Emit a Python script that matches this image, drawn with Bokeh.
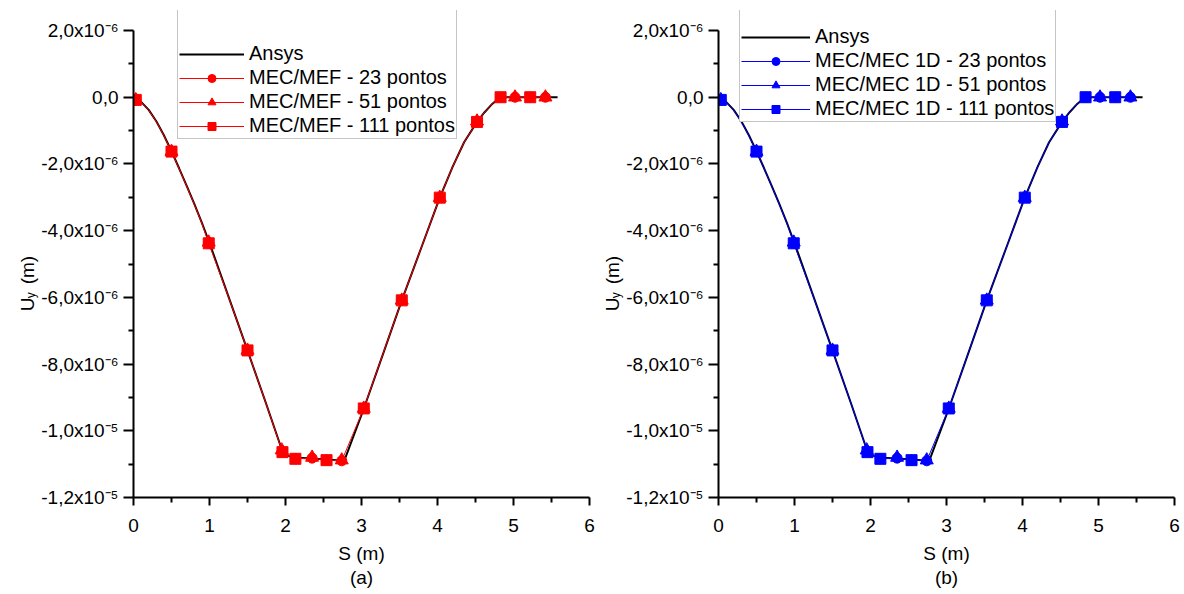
import math
from bokeh.plotting import figure
from bokeh.models import FixedTicker, Legend, LegendItem, LinearAxis
from bokeh.core.properties import value
from bokeh.layouts import row
from bokeh.embed import file_html
from bokeh.resources import INLINE

# ---------------- data ----------------
s_ansys = [0.00, 0.10, 0.20, 0.30, 0.40, 0.50, 0.60, 0.70, 0.80, 0.90, 1.00, 1.25, 1.50, 1.75,
           1.96, 2.05, 2.15, 2.35, 2.55, 2.75, 2.78, 3.03, 3.30, 3.53, 3.80, 4.03, 4.20, 4.35,
           4.52, 4.62, 4.72, 4.80, 4.85, 5.10, 5.40, 5.58]
uy_ansys = [0.0, -0.14e-6, -0.38e-6, -0.72e-6, -1.14e-6, -1.62e-6, -2.13e-6, -2.66e-6, -3.20e-6,
            -3.77e-6, -4.37e-6, -5.98e-6, -7.59e-6, -9.22e-6, -10.62e-6, -10.76e-6, -10.81e-6,
            -10.83e-6, -10.86e-6, -10.90e-6, -10.86e-6, -9.34e-6, -7.59e-6, -6.09e-6, -4.43e-6,
            -3.01e-6, -2.08e-6, -1.35e-6, -0.74e-6, -0.45e-6, -0.20e-6, -0.05e-6, 0.0, 0.0, 0.0, 0.0]

# line through the coupled-method results (drawn on top of the Ansys curve)
s_coupled_line = [0.03, 0.10, 0.20, 0.30, 0.40, 0.50, 0.60, 0.70, 0.80, 0.90, 0.99, 1.25, 1.50,
                  1.75, 1.96, 2.13, 2.35, 2.54, 2.74, 3.03, 3.30, 3.53, 3.80, 4.03, 4.20, 4.35,
                  4.52, 4.62, 4.72, 4.83, 5.02, 5.22, 5.42]
uy_coupled_line = [-0.08e-6, -0.15e-6, -0.39e-6, -0.73e-6, -1.15e-6, -1.63e-6, -2.14e-6, -2.67e-6,
                   -3.21e-6, -3.78e-6, -4.38e-6, -5.99e-6, -7.59e-6, -9.22e-6, -10.64e-6,
                   -10.84e-6, -10.82e-6, -10.88e-6, -10.90e-6, -9.33e-6, -7.58e-6, -6.09e-6,
                   -4.43e-6, -3.01e-6, -2.08e-6, -1.35e-6, -0.74e-6, -0.45e-6, -0.20e-6, 0.0,
                   0.0, 0.0, 0.0]

s_23 = [0.03, 0.50, 0.99, 1.50, 1.96, 2.13, 2.35, 2.54, 2.74, 3.03, 3.53, 4.03, 4.52, 4.83, 5.02, 5.22, 5.42]
uy_23 = [-0.08e-6, -1.63e-6, -4.38e-6, -7.59e-6, -10.62e-6, -10.84e-6, -10.82e-6, -10.88e-6,
         -10.90e-6, -9.33e-6, -6.09e-6, -3.01e-6, -0.74e-6, 0.0, 0.0, 0.0, 0.0]

s_51 = [0.03, 0.50, 0.99, 1.50, 1.95, 2.35, 2.74, 3.03, 3.53, 4.03, 4.52, 5.02, 5.42]
uy_51 = [-0.08e-6, -1.63e-6, -4.35e-6, -7.59e-6, -10.58e-6, -10.80e-6, -10.88e-6, -9.33e-6,
         -6.09e-6, -3.01e-6, -0.72e-6, 0.0, 0.0]

s_111 = [0.03, 0.50, 0.99, 1.50, 1.96, 2.13, 2.54, 3.03, 3.53, 4.03, 4.52, 4.83, 5.22]
uy_111 = [-0.08e-6, -1.63e-6, -4.38e-6, -7.59e-6, -10.64e-6, -10.84e-6, -10.88e-6, -9.33e-6,
          -6.09e-6, -3.01e-6, -0.74e-6, 0.0, 0.0]

names_a = ["MEC/MEF - 23 pontos", "MEC/MEF - 51 pontos", "MEC/MEF - 111 pontos"]
names_b = ["MEC/MEC 1D - 23 pontos", "MEC/MEC 1D - 51 pontos", "MEC/MEC 1D - 111 pontos"]

x_ticks = [0, 1, 2, 3, 4, 5, 6]
x_tick_labels = ["0", "1", "2", "3", "4", "5", "6"]
y_ticks = [2e-6, 0.0, -2e-6, -4e-6, -6e-6, -8e-6, -1.0e-5, -1.2e-5]
y_tick_labels = ["2,0x10\u207b\u2076", "0,0", "-2,0x10\u207b\u2076", "-4,0x10\u207b\u2076",
                 "-6,0x10\u207b\u2076", "-8,0x10\u207b\u2076", "-1,0x10\u207b\u2075",
                 "-1,2x10\u207b\u2075"]

FONT = "Liberation Sans"


def make_panel(color, names, tag, leg_x, leg_y, border_left, glyph_w):
    # frame reaches a little above the top tick so the legend (clipped at the frame top) looks cut
    p = figure(frame_width=456, frame_height=487, x_range=(0, 6), y_range=(-1.2e-5, 2.6e-6),
               min_border_left=border_left, min_border_right=8, min_border_top=10,
               min_border_bottom=84, output_backend="svg", toolbar_location=None, tools="")
    p.outline_line_color = None
    p.grid.visible = False
    p.background_fill_color = "white"
    p.border_fill_color = "white"

    x_minor = [(a + b) / 2 for a, b in zip(x_ticks[:-1], x_ticks[1:])]
    y_minor = [(a + b) / 2 for a, b in zip(y_ticks[:-1], y_ticks[1:])]
    p.xaxis.ticker = FixedTicker(ticks=x_ticks, minor_ticks=x_minor)
    p.yaxis.ticker = FixedTicker(ticks=y_ticks, minor_ticks=y_minor)
    p.yaxis.bounds = (min(y_ticks), max(y_ticks))
    p.xaxis.major_label_overrides = dict(zip(x_ticks, x_tick_labels))
    p.yaxis.major_label_overrides = dict(zip(y_ticks, y_tick_labels))
    for ax in (p.xaxis[0], p.yaxis[0]):
        ax.axis_line_width = 2
        ax.axis_line_color = "black"
        ax.major_tick_line_width = 2
        ax.minor_tick_line_width = 2
        ax.major_tick_line_color = "black"
        ax.minor_tick_line_color = "black"
        ax.major_tick_in = 0
        ax.minor_tick_in = 0
        ax.minor_tick_out = 5
        ax.major_label_text_font = FONT
        ax.major_label_text_font_size = "19px"
        ax.major_label_text_color = "black"
    p.xaxis.major_tick_out = 8
    p.xaxis.major_label_standoff = 13
    p.yaxis.major_tick_out = 10
    p.yaxis.major_label_standoff = 5

    xa = p.xaxis[0]
    xa.axis_label = "S (m)"
    xa.axis_label_text_font = FONT
    xa.axis_label_text_font_size = "19px"
    xa.axis_label_text_font_style = "normal"
    xa.axis_label_text_color = "black"
    xa.axis_label_standoff = 8

    tag_axis = LinearAxis(ticker=FixedTicker(ticks=[]), axis_label=tag,
                          axis_line_color=None, major_tick_line_color=None,
                          minor_tick_line_color=None, major_label_standoff=0,
                          major_tick_out=0, minor_tick_out=0,
                          axis_label_standoff=0, axis_label_text_font=FONT,
                          axis_label_text_font_size="19px",
                          axis_label_text_font_style="normal",
                          axis_label_text_color="black")
    p.add_layout(tag_axis, "below")

    r_ansys = p.line(s_ansys, uy_ansys, line_color="black", line_width=2)
    r_line = p.line(s_coupled_line, uy_coupled_line, line_color=color, line_width=1)
    r_c = p.scatter(s_23, uy_23, marker="circle", size=10, fill_color=color, line_color=color)
    r_t = p.scatter(s_51, uy_51, marker="triangle", size=13, fill_color=color, line_color=color)
    r_s = p.scatter(s_111, uy_111, marker="square", size=11, fill_color=color, line_color=color)

    legend = Legend(items=[LegendItem(label="Ansys", renderers=[r_ansys]),
                           LegendItem(label=names[0], renderers=[r_line, r_c]),
                           LegendItem(label=names[1], renderers=[r_line, r_t]),
                           LegendItem(label=names[2], renderers=[r_line, r_s])],
                    location=(leg_x, leg_y))
    legend.title = " "
    legend.title_text_font_size = "19px"
    legend.title_standoff = 12
    legend.label_text_font = FONT
    legend.label_text_font_size = "20px"
    legend.label_text_color = "black"
    legend.glyph_width = glyph_w
    legend.glyph_height = 20
    legend.label_standoff = 5
    legend.spacing = 1
    legend.padding = 1
    legend.margin = 0
    legend.border_line_color = "#8c8c8c"
    legend.border_line_width = 1
    legend.background_fill_color = "white"
    legend.background_fill_alpha = 1
    p.add_layout(legend)

    # y axis title U_y (m), drawn as rotated text outside the frame
    txt = dict(text_font=value(FONT), text_color="black", angle=math.pi / 2,
               text_align="left", text_baseline="alphabetic", level="overlay")
    p.text(x=[-1.395], y=[-6.42e-6], text=["U"], text_font_size="19px", **txt)
    p.text(x=[-1.355], y=[-6.03e-6], text=["y"], text_font_size="12px", **txt)
    p.text(x=[-1.395], y=[-5.61e-6], text=["(m)"], text_font_size="19px", **txt)
    return p


p1 = make_panel("#ff0000", names_a, "(a)", 44, 358, 133, 65)
p2 = make_panel("#0000ff", names_b, "(b)", 21, 375, 121, 69)

layout = row(p1, p2)
open("out.html", "w").write(file_html(layout, INLINE))
